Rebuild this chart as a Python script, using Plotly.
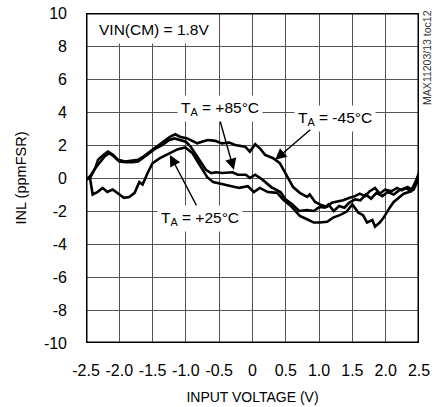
import plotly.graph_objects as go

# INL vs input voltage at three temperatures (VIN(CM) = 1.8V)
x_m45 = [-2.5, -2.44, -2.36, -2.32, -2.24, -2.17, -2.09, -2.02, -1.91, -1.81, -1.72, -1.64,
         -1.54, -1.43, -1.34, -1.24, -1.16, -1.09, -0.98, -0.89, -0.83, -0.76, -0.67, -0.56,
         -0.46, -0.35, -0.26, -0.11, -0.04, 0.04, 0.11, 0.19, 0.31, 0.41, 0.52, 0.61, 0.71,
         0.82, 0.86, 0.94, 1.01, 1.12, 1.19, 1.27, 1.36, 1.46, 1.54, 1.61, 1.69, 1.76, 1.84,
         1.91, 1.99, 2.09, 2.17, 2.24, 2.33, 2.39, 2.44, 2.5]
inl_m45 = [-0.1, 0.0, 0.6, 1.1, 1.4, 1.6, 1.4, 1.1, 1.0, 1.05, 1.1, 1.3,
           1.6, 1.9, 2.15, 2.5, 2.65, 2.5, 2.4, 2.2, 2.1, 2.2, 2.3, 2.25,
           2.1, 2.15, 2.0, 1.9, 1.6, 2.05, 1.8, 1.4, 1.2, 0.9, 0.1, -0.55, -0.9,
           -1.15, -1.0, -1.45, -1.6, -1.75, -1.5, -1.45, -1.35, -1.2, -1.1, -0.95, -1.1, -0.8, -0.6,
           -0.95, -0.7, -0.8, -0.6, -0.75, -0.55, -0.7, -0.3, 0.3]

x_p85 = [-2.5, -2.44, -2.36, -2.3, -2.22, -2.15, -2.08, -2.0, -1.9, -1.8, -1.72, -1.65,
         -1.55, -1.45, -1.35, -1.25, -1.17, -1.1, -1.0, -0.93, -0.85, -0.78, -0.7, -0.62,
         -0.55, -0.45, -0.3, -0.22, -0.1, -0.04, 0.04, 0.15, 0.28, 0.42, 0.5, 0.6, 0.7,
         0.82, 0.92, 1.01, 1.09, 1.14, 1.22, 1.3, 1.38, 1.45, 1.54, 1.62, 1.7, 1.78, 1.86,
         1.95, 2.03, 2.12, 2.2, 2.3, 2.38, 2.45, 2.5]
inl_p85 = [-0.1, 0.1, 0.6, 0.9, 1.3, 1.5, 1.3, 1.0, 0.95, 0.95, 1.0, 1.2,
           1.5, 1.8, 2.0, 2.3, 2.4, 2.3, 2.2, 1.9, 1.4, 1.0, 0.5, 0.3,
           0.35, 0.3, 0.35, 0.2, 0.2, 0.0, 0.2, -0.1, -0.55, -0.85, -1.3, -1.6, -2.0,
           -1.95, -2.0, -1.75, -1.8, -1.6, -2.0, -1.7, -1.8, -1.5, -1.3, -1.35, -1.0, -1.25, -0.9,
           -1.1, -0.85, -1.0, -0.75, -0.6, -0.8, -0.4, 0.1]

x_p25 = [-2.5, -2.44, -2.4, -2.33, -2.25, -2.18, -2.1, -2.03, -1.93, -1.85, -1.77, -1.7,
         -1.65, -1.57, -1.5, -1.39, -1.24, -1.12, -1.01, -0.9, -0.78, -0.68, -0.59, -0.48,
         -0.35, -0.2, -0.07, 0.02, 0.11, 0.23, 0.37, 0.46, 0.59, 0.71, 0.82, 0.92, 1.01,
         1.12, 1.21, 1.31, 1.41, 1.5, 1.59, 1.66, 1.72, 1.8, 1.84, 1.91, 1.97, 2.02, 2.06,
         2.12, 2.2, 2.27, 2.35, 2.42, 2.5]
inl_p25 = [-0.1, 0.0, -1.0, -0.85, -0.6, -0.85, -0.7, -0.9, -1.2, -1.15, -0.9, -0.25,
           -0.4, 0.35, 0.9, 1.2, 1.5, 1.75, 1.85, 1.5, 0.7, 0.05, -0.25, -0.35,
           -0.45, -0.6, -0.5, -0.85, -0.6, -0.85, -0.9, -1.3, -1.75, -2.3, -2.5, -2.7, -2.7,
           -2.65, -2.4, -2.25, -2.05, -1.6, -2.1, -2.25, -2.7, -2.55, -2.95, -2.7, -2.4, -2.05, -1.8,
           -1.45, -1.2, -0.95, -0.85, -0.7, 0.0]

x_ticks = [-2.5, -2.0, -1.5, -1.0, -0.5, 0, 0.5, 1.0, 1.5, 2.0, 2.5]
x_ticktext = ["-2.5", "-2.0", "-1.5", "-1.0", "-0.5", "0", "0.5", "1.0", "1.5", "2.0", "2.5"]
y_ticks = [-10, -8, -6, -4, -2, 0, 2, 4, 6, 8, 10]
y_ticktext = ["-10", "-8", "-6", "-4", "-2", "0", "2", "4", "6", "8", "10"]

FONT = "Liberation Sans, Arial, sans-serif"

fig = go.Figure()
for xs, ys in [(x_m45, inl_m45), (x_p85, inl_p85), (x_p25, inl_p25)]:
    fig.add_trace(go.Scatter(x=xs, y=ys, mode="lines",
                             line=dict(color="black", width=2.6),
                             showlegend=False, hoverinfo="skip"))

# white patch behind the condition label in the top-left cell row
fig.add_shape(type="rect", xref="x", yref="y", x0=-2.5, x1=-0.62, y0=8.15, y1=10,
              fillcolor="white", line=dict(width=0), layer="above")
# plot frame
fig.add_shape(type="rect", xref="x", yref="y", x0=-2.5, x1=2.5, y0=-10, y1=10,
              line=dict(color="black", width=3), layer="above")

ann_font = dict(family=FONT, size=15.5, color="black")
fig.add_annotation(x=-2.34, y=9.0, xref="x", yref="y", text="VIN(CM) = 1.8V",
                   showarrow=False, xanchor="left", font=ann_font)

# curve labels (white boxes interrupt the grid)
labels = [(-0.49, 4.2, "T<sub>A</sub> = +85°C"),
          (1.24, 3.6, "T<sub>A</sub> = -45°C"),
          (-0.79, -2.45, "T<sub>A</sub> = +25°C")]
for lx, ly, txt in labels:
    fig.add_annotation(x=lx, y=ly, xref="x", yref="y", text=txt, showarrow=False,
                       bgcolor="white", borderpad=3, font=ann_font)

# arrows from labels to their curves: (tail x, tail y, tip x, tip y)
arrows = [(-0.49, 3.5, -0.28, 0.5),
          (0.89, 3.0, 0.34, 1.1),
          (-0.83, -1.75, -1.24, 1.4)]
for tx, ty, hx, hy in arrows:
    fig.add_annotation(x=hx, y=hy, ax=tx, ay=ty, xref="x", yref="y", axref="x", ayref="y",
                       text="", showarrow=True, arrowhead=2, arrowsize=1.6,
                       arrowwidth=1.4, arrowcolor="black", standoff=0)

fig.add_annotation(x=1.026, y=0.866, xref="paper", yref="paper", text="MAX11203/13 toc12",
                   showarrow=False, textangle=-90, xanchor="center", yanchor="middle",
                   font=dict(family=FONT, size=10.5, color="#333"))

fig.update_xaxes(range=[-2.5, 2.5], tickvals=x_ticks, ticktext=x_ticktext,
                 showgrid=True, gridcolor="#555", gridwidth=1, zeroline=False,
                 showline=False, ticks="", ticklabelstandoff=16, automargin=False,
                 tickfont=dict(family=FONT, size=16, color="black"),
                 title=dict(text="INPUT VOLTAGE (V)", standoff=14,
                            font=dict(family=FONT, size=14, color="black")))
fig.update_yaxes(range=[-10, 10], tickvals=y_ticks, ticktext=y_ticktext,
                 showgrid=True, gridcolor="#555", gridwidth=1, zeroline=False,
                 showline=False, ticks="", ticklabelstandoff=18, automargin=False,
                 tickfont=dict(family=FONT, size=16, color="black"),
                 title=dict(text="INL (ppmFSR)", standoff=13,
                            font=dict(family=FONT, size=14.5, color="black")))

fig.update_layout(width=438, height=407, margin=dict(l=86, r=19, t=13, b=64),
                  plot_bgcolor="white", paper_bgcolor="white")

fig.write_html("out.html")
